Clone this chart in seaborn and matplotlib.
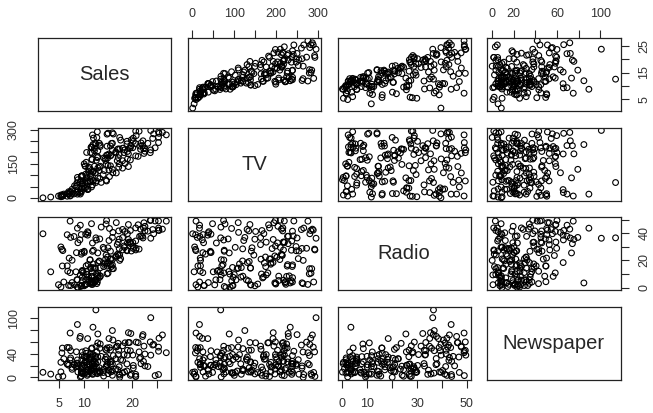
import matplotlib
matplotlib.use("Agg")
import matplotlib.pyplot as plt
import pandas as pd
import seaborn as sns

tv = [230.1,44.5,17.2,151.5,180.8,8.7,57.5,120.2,8.6,199.8,66.1,214.7,23.8,97.5,204.1,195.4,67.8,281.4,69.2,147.3,
      218.4,237.4,13.2,228.3,62.3,262.9,142.9,240.1,248.8,70.6,292.9,112.9,97.2,265.6,95.7,290.7,266.9,74.7,43.1,228,
      202.5,177,293.6,206.9,25.1,175.1,89.7,239.9,227.2,66.9,199.8,100.4,216.4,182.6,262.7,198.9,7.3,136.2,210.8,210.7,
      53.5,261.3,239.3,102.7,131.1,69,31.5,139.3,237.4,216.8,199.1,109.8,26.8,129.4,213.4,16.9,27.5,120.5,5.4,116,
      76.4,239.8,75.3,68.4,213.5,193.2,76.3,110.7,88.3,109.8,134.3,28.6,217.7,250.9,107.4,163.3,197.6,184.9,289.7,135.2,
      222.4,296.4,280.2,187.9,238.2,137.9,25,90.4,13.1,255.4,225.8,241.7,175.7,209.6,78.2,75.1,139.2,76.4,125.7,19.4,
      141.3,18.8,224,123.1,229.5,87.2,7.8,80.2,220.3,59.6,0.7,265.2,8.4,219.8,36.9,48.3,25.6,273.7,43,184.9,
      73.4,193.7,220.5,104.6,96.2,140.3,240.1,243.2,38,44.7,280.7,121,197.6,171.3,187.8,4.1,93.9,149.8,11.7,131.7,
      172.5,85.7,188.4,163.5,117.2,234.5,17.9,206.8,215.4,284.3,50,164.5,19.6,168.4,222.4,276.9,248.4,170.2,276.7,165.6,
      156.6,218.5,56.2,287.6,253.8,205,139.5,191.1,286,18.7,39.5,75.5,17.2,166.8,149.7,38.2,94.2,177,283.6,232.1]
radio = [37.8,39.3,45.9,41.3,10.8,48.9,32.8,19.6,2.1,2.6,5.8,24,35.1,7.6,32.9,47.7,36.6,39.6,20.5,23.9,
         27.7,5.1,15.9,16.9,12.6,3.5,29.3,16.7,27.1,16,28.3,17.4,1.5,20,1.4,4.1,43.8,49.4,26.7,37.7,
         22.3,33.4,27.7,8.4,25.7,22.5,9.9,41.5,15.8,11.7,3.1,9.6,41.7,46.2,28.8,49.4,28.1,19.2,49.6,29.5,
         2,42.7,15.5,29.6,42.8,9.3,24.6,14.5,27.5,43.9,30.6,14.3,33,5.7,24.6,43.7,1.6,28.5,29.9,7.7,
         26.7,4.1,20.3,44.5,43,18.4,27.5,40.6,25.5,47.8,4.9,1.5,33.5,36.5,14,31.6,3.5,21,42.3,41.7,
         4.3,36.3,10.1,17.2,34.3,46.4,11,0.3,0.4,26.9,8.2,38,15.4,20.6,46.8,35,14.3,0.8,36.9,16,
         26.8,21.7,2.4,34.6,32.3,11.8,38.9,0,49,12,39.6,2.9,27.2,33.5,38.6,47,39,28.9,25.9,43.9,
         17,35.4,33.2,5.7,14.8,1.9,7.3,49,40.3,25.8,13.9,8.4,23.3,39.7,21.1,11.6,43.5,1.3,36.9,18.4,
         18.1,35.8,18.1,36.8,14.7,3.4,37.6,5.2,23.6,10.6,11.6,20.9,20.1,7.1,3.4,48.9,30.2,7.8,2.3,10,
         2.6,5.4,5.7,43,21.3,45.1,2.1,28.7,13.9,12.1,41.1,10.8,4.1,42,35.6,3.7,4.9,9.3,42,8.6]
newspaper = [69.2,45.1,69.3,58.5,58.4,75,23.5,11.6,1,21.2,24.2,4,65.9,7.2,46,52.9,114,55.8,18.3,19.1,
             53.4,23.5,49.6,26.2,18.3,19.5,12.6,22.9,22.9,40.8,43.2,38.6,30,0.3,7.4,8.5,5,45.7,35.1,32,
             31.6,38.7,1.8,26.4,43.3,31.5,35.7,18.5,49.9,36.8,34.6,3.6,39.6,58.7,15.9,60,41.4,16.6,37.7,9.3,
             21.4,54.7,27.3,8.4,28.9,0.9,2.2,10.2,11,27.2,38.7,31.7,19.3,31.3,13.1,89.4,20.7,14.2,9.4,23.1,
             22.3,36.9,32.5,35.6,33.8,65.7,16,63.2,73.4,51.4,9.3,33,59,72.3,10.9,52.9,5.9,22,51.2,45.9,
             49.8,100.9,21.4,17.9,5.3,59,29.7,23.2,25.6,5.5,56.5,23.2,2.4,10.7,34.5,52.7,25.6,14.8,79.2,22.3,
             46.2,50.4,15.6,12.4,74.2,25.9,50.6,9.2,3.2,43.1,8.7,43,2.1,45.1,65.6,8.5,9.3,59.7,20.5,1.7,
             12.9,75.6,37.9,34.4,38.9,9,8.7,44.3,11.9,20.6,37,48.7,14.2,37.7,9.5,5.7,50.5,24.3,45.2,34.6,
             30.7,49.3,25.6,7.4,5.4,84.8,21.6,19.4,57.6,6.4,18.4,47.4,17,12.8,13.1,41.8,20.3,35.2,23.7,17.6,
             8.3,27.4,29.7,71.8,30,19.6,26.6,18.2,3.7,23.4,5.8,6,31.6,3.6,6,13.8,8.1,6.4,66.2,8.7]
sales = [22.1,10.4,9.3,18.5,12.9,7.2,11.8,13.2,4.8,10.6,8.6,17.4,9.2,9.7,19,22.4,12.5,24.4,11.3,14.6,
         18,12.5,5.6,15.5,9.7,12,15,15.9,18.9,10.5,21.4,11.9,9.6,17.4,9.5,12.8,25.4,14.7,10.1,21.5,
         16.6,17.1,20.7,12.9,8.5,14.9,10.6,23.2,14.8,9.7,11.4,10.7,22.6,21.2,20.2,23.7,5.5,13.2,23.8,18.4,
         8.1,24.2,15.7,14,18,9.3,9.5,13.4,18.9,22.3,18.3,12.4,8.8,11,17,8.7,6.9,14.2,5.3,11,
         11.8,12.3,11.3,13.6,21.7,15.2,12,16,12.9,16.7,11.2,7.3,19.4,22.2,11.5,16.9,11.7,15.5,25.4,17.2,
         11.7,23.8,14.8,14.7,20.7,19.2,7.2,8.7,5.3,19.8,13.4,21.8,14.1,15.9,14.6,12.6,12.2,9.4,15.9,6.6,
         15.5,7,11.6,15.2,19.7,10.6,6.6,8.8,24.7,9.7,1.6,12.7,5.7,19.6,10.8,11.6,9.5,20.8,9.6,20.7,
         10.9,19.2,20.1,10.4,11.4,10.3,13.2,25.4,10.9,10.1,16.1,11.6,16.6,19,15.6,3.2,15.3,10.1,7.3,12.9,
         14.4,13.3,14.9,18,11.9,11.9,8,12.2,17.1,15,8.4,14.5,7.6,11.7,11.5,27,20.2,11.7,11.8,12.6,
         10.5,12.2,8.7,26.2,17.6,22.6,10.3,17.3,15.9,6.7,10.8,9.9,5.9,19.6,17.3,7.6,9.7,12.8,25.5,13.4]

names = ["Sales", "TV", "Radio", "Newspaper"]
x_ticks = [[5, 10, 15, 20, 25], [0, 50, 100, 150, 200, 250, 300],
           [0, 10, 20, 30, 40, 50], [0, 20, 40, 60, 80, 100]]
x_labels = [["5", "10", "", "20", ""], ["0", "", "100", "", "200", "", "300"],
            ["0", "10", "", "30", "", "50"], ["0", "20", "", "60", "", "100"]]
y_ticks = [[5, 10, 15, 20, 25], [0, 50, 100, 150, 200, 250, 300],
           [0, 10, 20, 30, 40, 50], [0, 20, 40, 60, 80, 100]]
y_labels = [["5", "", "15", "", "25"], ["0", "", "", "150", "", "", "300"],
            ["0", "", "20", "", "40", ""], ["0", "", "40", "", "", "100"]]

df = pd.DataFrame({"Sales": sales, "TV": tv, "Radio": radio, "Newspaper": newspaper})

sns.set_style("white")
plt.rcParams["font.family"] = ["Liberation Sans", "DejaVu Sans"]
plt.rcParams["text.color"] = "#262626"

g = sns.PairGrid(df, vars=names, diag_sharey=False)
g.map_offdiag(sns.scatterplot, s=17, facecolor="none", edgecolor="black", linewidth=0.8, clip_on=True)
g.figure.set_size_inches(6.53, 4.13)
g.figure.subplots_adjust(left=38 / 653, right=620.5 / 653, top=1 - 38 / 413, bottom=1 - 380 / 413,
                         wspace=0.124, hspace=0.233)

for i, name in enumerate(names):
    lo, hi = df[name].min(), df[name].max()
    pad = (hi - lo) * 0.04
    # R style 4% range, diagonal panels share these scales too
    g.axes[0, i].set_xlim(lo - pad, hi + pad)
    g.axes[i, 0].set_ylim(lo - pad, hi + pad)
    g.axes[0, i].set_xticks(x_ticks[i], x_labels[i])
    g.axes[i, 0].set_yticks(y_ticks[i], y_labels[i])

for r in range(4):
    for c in range(4):
        ax = g.axes[r, c]
        ax.set_xlabel("")
        ax.set_ylabel("")
        for side in ax.spines.values():
            side.set_visible(True)
            side.set_color("#222222")
            side.set_linewidth(0.9)
        ax.tick_params(axis="both", length=0, labelbottom=False, labeltop=False,
                       labelleft=False, labelright=False)
        if r == 0 and c % 2 == 1:
            ax.tick_params(axis="x", top=True, bottom=False, labeltop=True, length=6,
                           width=0.8, pad=7, labelsize=9, labelcolor="#333333")
        if r == 3 and c % 2 == 0:
            ax.tick_params(axis="x", bottom=True, top=False, labelbottom=True, length=6,
                           width=0.8, pad=7, labelsize=9, labelcolor="#333333")
        if c == 0 and r % 2 == 1:
            ax.tick_params(axis="y", left=True, right=False, labelleft=True, length=6,
                           width=0.8, pad=7, labelsize=9, labelcolor="#333333")
            plt.setp(ax.get_yticklabels(), rotation=90, va="center")
        if c == 3 and r % 2 == 0:
            ax.tick_params(axis="y", right=True, left=False, labelright=True, length=6,
                           width=0.8, pad=7, labelsize=9, labelcolor="#333333")
            plt.setp(ax.get_yticklabels(), rotation=90, va="center")
    g.axes[r, r].text(0.5, 0.5, names[r], transform=g.axes[r, r].transAxes,
                      ha="center", va="center", fontsize=14.5)

g.figure.savefig("out.png", dpi=100)
